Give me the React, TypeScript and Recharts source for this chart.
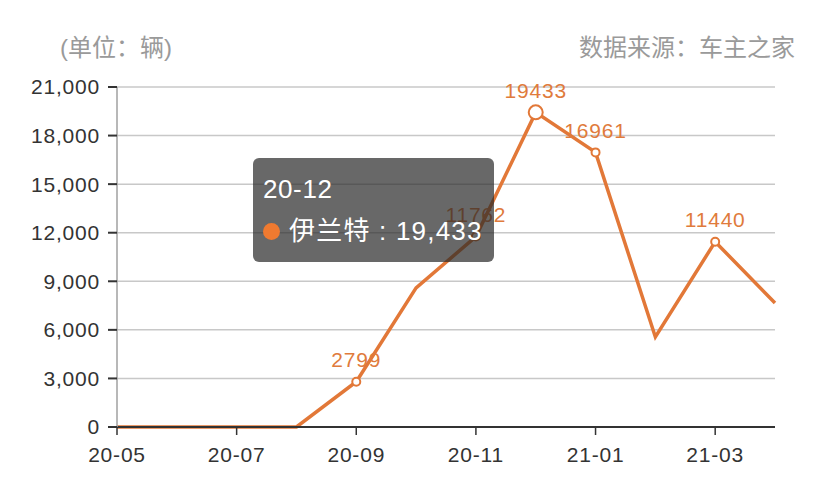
import React from 'react';
import { LineChart, Line, XAxis, YAxis, CartesianGrid, Tooltip } from 'recharts';

const months = ['20-05', '20-06', '20-07', '20-08', '20-09', '20-10', '20-11', '20-12', '21-01', '21-02', '21-03', '21-04'];
const sales = [0, 0, 0, 0, 2799, 8590, 11762, 19433, 16961, 5560, 11440, 7660];
const labeledMonths = ['20-09', '20-11', '20-12', '21-01', '21-03'];
const yTicks = [0, 3000, 6000, 9000, 12000, 15000, 18000, 21000];
const xTicks = ['20-05', '20-07', '20-09', '20-11', '21-01', '21-03'];
const seriesName = '伊兰特';
const unitText = '(单位：辆)';
const sourceText = '数据来源：车主之家';
const activeMonth = '20-12';

const data = months.map((m, i) => ({ month: m, value: sales[i] }));

const FONT = '"Liberation Sans", Arial, "Noto Sans CJK SC", sans-serif';
const LINE = '#E27838';
const LABEL = '#E07B3C';

const renderDot = (props: any) => {
  const { cx, cy, payload, index } = props;
  if (!labeledMonths.includes(payload.month)) return <g key={`d${index}`} />;
  return <circle key={`d${index}`} cx={cx} cy={cy} r={4} fill="#fff" stroke={LINE} strokeWidth={2} />;
};

const renderLabel = (props: any) => {
  const { x, y, value, index } = props;
  if (!labeledMonths.includes(months[index])) return <g key={`l${index}`} />;
  return (
    <text key={`l${index}`} x={x} y={y - 22} textAnchor="middle" dominantBaseline="central"
      fill={LABEL} fontSize={21} fontFamily={FONT} letterSpacing={0.8}>
      {value}
    </text>
  );
};

const TipContent = (props: any) => {
  const { active, payload, label } = props;
  if (!active || !payload || !payload.length) return null;
  return (
    <div style={{
      background: 'rgba(40,40,40,0.7)', borderRadius: 6, width: 241, height: 104,
      boxSizing: 'border-box', padding: '16px 10px 0 10px', color: '#fff', fontFamily: FONT,
    }}>
      <div style={{ fontSize: 26, lineHeight: '30px', letterSpacing: 0.6 }}>{label}</div>
      <div style={{ display: 'flex', alignItems: 'center', marginTop: 12, fontSize: 26, lineHeight: '30px', letterSpacing: 1.2, whiteSpace: 'nowrap' }}>
        <span style={{ width: 17, height: 17, borderRadius: '50%', background: '#F07A30', marginRight: 9, display: 'inline-block', flex: 'none' }} />
        {payload[0].name} : {Number(payload[0].value).toLocaleString('en-US')}
      </div>
    </div>
  );
};

export default function App() {
  return (
    <div style={{ position: 'absolute', left: 0, top: 0, width: 828, height: 502, background: '#fff', fontFamily: FONT }}>
      <div style={{ position: 'absolute', left: 60, top: 36, fontSize: 24, lineHeight: '24px', color: '#9a9a9a', whiteSpace: 'nowrap' }}>{unitText}</div>
      <div style={{ position: 'absolute', right: 33, top: 36, fontSize: 24, lineHeight: '24px', color: '#9a9a9a', whiteSpace: 'nowrap' }}>{sourceText}</div>
      <LineChart width={828} height={502} data={data} margin={{ top: 87, right: 53, left: 0, bottom: 45 }}>
        <CartesianGrid vertical={false} stroke="#c8c8c8" strokeWidth={1.5} />
        <XAxis dataKey="month" ticks={xTicks} interval={0} height={30}
          axisLine={{ stroke: '#333', strokeWidth: 2 }} tickLine={{ stroke: '#333', strokeWidth: 1.5 }} tickSize={8} tickMargin={12}
          tick={{ fill: '#333', fontSize: 21, fontFamily: FONT, letterSpacing: 0.8 }} />
        <YAxis width={117} domain={[0, 21000]} ticks={yTicks} interval={0}
          tickFormatter={(v: number) => v.toLocaleString('en-US')}
          axisLine={{ stroke: '#a0a0a0', strokeWidth: 1.5 }} tickLine={{ stroke: '#333', strokeWidth: 2 }} tickSize={9} tickMargin={8}
          tick={{ fill: '#333', fontSize: 21, fontFamily: FONT, letterSpacing: 0.8 }} />
        <Tooltip content={<TipContent />} defaultIndex={months.indexOf(activeMonth)} active={true}
          position={{ x: 253, y: 158 }} cursor={false} isAnimationActive={false}
          wrapperStyle={{ outline: 'none' }} />
        <Line type="linear" dataKey="value" name={seriesName} stroke={LINE} strokeWidth={3.5}
          dot={renderDot} activeDot={{ r: 7, fill: '#fff', stroke: LINE, strokeWidth: 2 }}
          label={renderLabel} isAnimationActive={false} />
      </LineChart>
    </div>
  );
}
